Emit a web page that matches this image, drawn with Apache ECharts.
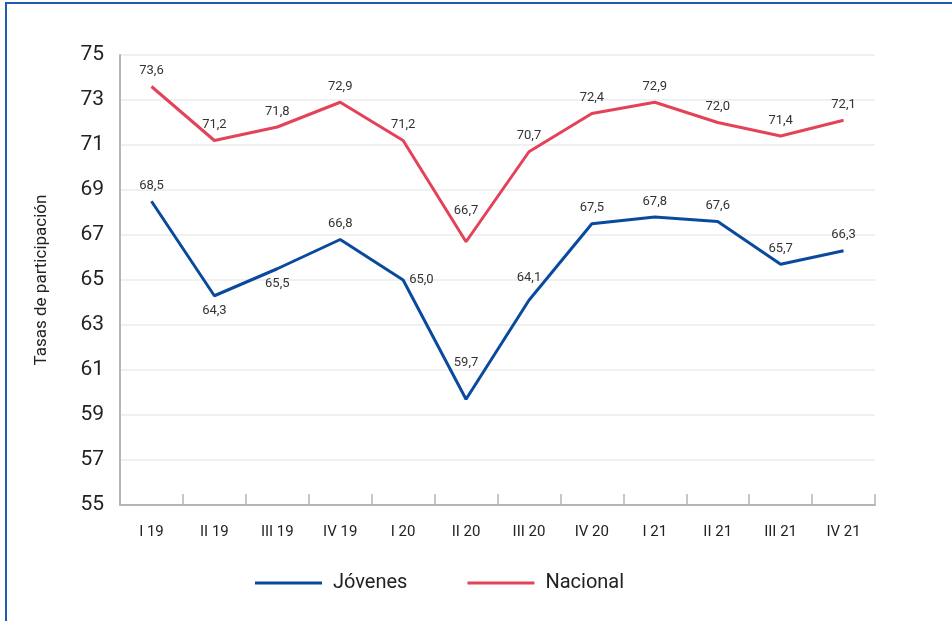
<!DOCTYPE html>
<html>
<head>
<meta charset="utf-8">
<script src="https://cdn.jsdelivr.net/npm/echarts@6/dist/echarts.min.js"></script>
<style>
  html, body { margin: 0; padding: 0; background: #fff; }
  #chart { width: 952px; height: 621px; }
</style>
</head>
<body>
<div id="chart"></div>
<script>
// Quarters shown on the horizontal axis
const quarters = ['I 19', 'II 19', 'III 19', 'IV 19', 'I 20', 'II 20', 'III 20', 'IV 20', 'I 21', 'II 21', 'III 21', 'IV 21'];
// Participation rates (%)
const jovenes = [68.5, 64.3, 65.5, 66.8, 65.0, 59.7, 64.1, 67.5, 67.8, 67.6, 65.7, 66.3];
const nacional = [73.6, 71.2, 71.8, 72.9, 71.2, 66.7, 70.7, 72.4, 72.9, 72.0, 71.4, 72.1];
// Label placement for each point
const jovenesLabelPos = ['top', 'bottom', 'bottom', 'top', 'right', 'top', 'top', 'top', 'top', 'top', 'top', 'top'];
const jovenesLabelGap = [9, 8, 8, 9, 6, 30, 16, 9, 9, 9, 9, 9];
const nacionalLabelGap = [9, 9, 9, 9, 9, 24, 9, 9, 9, 9, 9, 9];

const fmt = v => v.toFixed(1).replace('.', ',');
const FONT = 'Roboto';

const chart = echarts.init(document.getElementById('chart'), null, { renderer: 'canvas' });

chart.setOption({
  animation: false,
  textStyle: { fontFamily: FONT },
  graphic: [{
    type: 'rect',
    shape: { x: 6, y: 3, width: 1000, height: 700 },
    style: { fill: 'none', stroke: '#1f5cb0', lineWidth: 2 },
    silent: true
  }],
  grid: { left: 120, right: 77, top: 55, bottom: 116 },
  legend: {
    top: 568,
    left: 250,
    icon: 'rect',
    itemWidth: 67,
    itemHeight: 3,
    itemGap: 60,
    textStyle: { fontSize: 20, color: '#222', fontFamily: FONT, padding: [0, 0, 0, 6] },
    data: ['Jóvenes', 'Nacional']
  },
  xAxis: {
    type: 'category',
    data: quarters,
    boundaryGap: true,
    axisLine: { lineStyle: { color: '#b5b5b5', width: 2 } },
    axisTick: { show: true, inside: true, length: 11, lineStyle: { color: '#b5b5b5', width: 1.5 } },
    axisLabel: { fontSize: 15, color: '#222', margin: 20, fontFamily: FONT }
  },
  yAxis: {
    type: 'value',
    min: 55,
    max: 75,
    interval: 2,
    name: 'Tasas de participación',
    nameLocation: 'middle',
    nameGap: 70,
    nameTextStyle: { fontSize: 17, color: '#222', fontFamily: FONT },
    axisLine: { show: true, lineStyle: { color: '#b5b5b5', width: 2 } },
    axisTick: { show: false },
    axisLabel: { fontSize: 21, color: '#222', margin: 16, fontFamily: FONT },
    splitLine: { lineStyle: { color: '#ebebeb', width: 1.5 } }
  },
  series: [
    {
      name: 'Jóvenes',
      type: 'line',
      data: jovenes.map((v, i) => ({
        value: v,
        label: { position: jovenesLabelPos[i], distance: jovenesLabelGap[i] }
      })),
      symbol: 'circle',
      symbolSize: 0.1,
      showSymbol: true,
      itemStyle: { color: '#0a4a9e' },
      lineStyle: { color: '#0a4a9e', width: 3 },
      label: {
        show: true,
        fontSize: 13,
        color: '#333',
        fontFamily: FONT,
        formatter: p => fmt(p.value)
      }
    },
    {
      name: 'Nacional',
      type: 'line',
      data: nacional.map((v, i) => ({
        value: v,
        label: { distance: nacionalLabelGap[i] }
      })),
      symbol: 'circle',
      symbolSize: 0.1,
      showSymbol: true,
      itemStyle: { color: '#e44258' },
      lineStyle: { color: '#e44258', width: 3 },
      label: {
        show: true,
        position: 'top',
        fontSize: 13,
        color: '#333',
        fontFamily: FONT,
        formatter: p => fmt(p.value)
      }
    }
  ]
});
</script>
</body>
</html>
